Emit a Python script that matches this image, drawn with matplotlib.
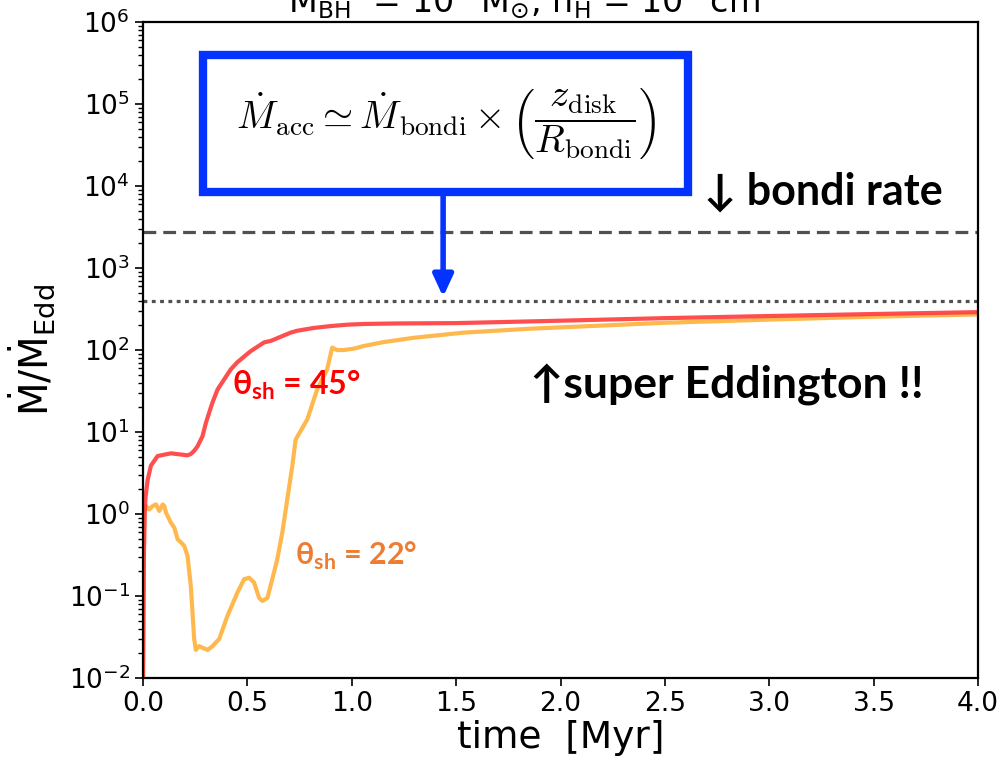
import numpy as np
import matplotlib
matplotlib.use("Agg")
import matplotlib.pyplot as plt
from matplotlib.patches import Rectangle

# accretion history, time in Myr, rate in Eddington units
t_45 = [0.0, 0.004, 0.008, 0.012, 0.022, 0.038, 0.07, 0.134, 0.213, 0.229, 0.245,
        0.261, 0.285, 0.301, 0.325, 0.333, 0.357, 0.389, 0.42, 0.452, 0.5,
        0.516, 0.58, 0.611, 0.707, 0.739, 0.818, 0.898, 0.98, 1.057, 1.217,
        1.5, 2.0, 2.5, 3.0, 3.5, 4.0]
mdot_45 = [0.01, 0.3, 1.0, 1.6, 2.6, 3.9, 5.1, 5.5, 5.2, 5.4, 5.9,
           6.7, 8.9, 12.9, 20.0, 23, 33, 44, 58, 71, 90,
           97, 124, 129, 163, 172, 186, 196, 204, 208, 211,
           213, 228, 245, 260, 275, 290]

t_22 = [0.0, 0.004, 0.0064, 0.0143, 0.030, 0.046, 0.062, 0.078, 0.094, 0.102, 0.110,
        0.134, 0.150, 0.166, 0.182, 0.197, 0.213, 0.229, 0.237, 0.245, 0.253,
        0.269, 0.285, 0.309, 0.333, 0.365, 0.404, 0.452, 0.484, 0.508, 0.532,
        0.556, 0.572, 0.596, 0.619, 0.643, 0.667, 0.691, 0.715, 0.731, 0.755,
        0.787, 0.834, 0.882, 0.906, 0.930, 0.962, 1.01, 1.057, 1.153, 1.296,
        1.535, 1.853, 2.5, 3.0, 3.5, 4.0]
mdot_22 = [0.01, 0.3, 1.25, 1.25, 1.14, 1.25, 1.31, 1.09, 1.31, 1.25, 1.04,
           0.78, 0.68, 0.49, 0.45, 0.41, 0.31, 0.132, 0.063, 0.030, 0.022,
           0.0245, 0.0234, 0.022, 0.0245, 0.030, 0.057, 0.11, 0.16, 0.167, 0.146,
           0.095, 0.087, 0.095, 0.16, 0.28, 0.59, 1.51, 3.85, 8.1, 10.3,
           14.3, 33, 58, 107, 100, 100, 104, 112, 125, 141,
           163, 182, 215, 235, 255, 272]

bondi_rate = 2750
eddington_cap = 400

plt.rcParams['mathtext.fontset'] = 'dejavusans'
plt.rcParams['mathtext.rm'] = 'Lato:bold'

fig = plt.figure(figsize=(10.03, 7.74), dpi=100)
ax = fig.add_axes([0.1426, 0.124, 0.8325, 0.8475])

ax.plot(t_22, mdot_22, color='#ffb13b', lw=3, alpha=0.9)
ax.plot(t_45, mdot_45, color='#ff3b3b', lw=3, alpha=0.9)

ax.axhline(bondi_rate, color='#505050', lw=2.3, ls=(0, (4, 2.2)))
ax.axhline(eddington_cap, color='#505050', lw=2.3, ls=(0, (1.2, 1.4)))

ax.set_yscale('log')
ax.set_xlim(0, 4.0)
ax.set_ylim(1e-2, 1e6)
ax.set_xticks(np.arange(0, 4.01, 0.5))
ax.set_yticks([10.0 ** k for k in range(-2, 7)])

for s in ax.spines.values():
    s.set_linewidth(1.6)
ax.tick_params(axis='both', which='major', direction='out', length=6, width=1.2,
               labelsize=19)
ax.tick_params(axis='y', which='minor', direction='out', length=3.5, width=1.0)

ax.set_xlabel('time  [Myr]', fontsize=27, labelpad=2)
ax.set_ylabel(r'$\dot{\mathsf{M}}/\dot{\mathsf{M}}_{\mathsf{Edd}}$', fontsize=28,
              labelpad=8)

fig.text(0.54, 0.9845,
         r'$\mathsf{M_{BH}}$  = $\mathsf{10^{5}}$ $\mathsf{M_{\odot}}$, '
         r'$\mathsf{n_{H}}$ = $\mathsf{10^{3}}$ $\mathsf{cm^{-3}}$',
         fontsize=24, ha='center', va='baseline')

# formula box and arrow
ax.add_patch(Rectangle((0.072, 0.741), 0.581, 0.209, transform=ax.transAxes,
                       fill=False, edgecolor='#0433ff', lw=6, zorder=5))
ax.text(0.3625, 0.8455,
        r'$\dot{M}_{\rm acc} \simeq \dot{M}_{\rm bondi} \times '
        r'\left(\dfrac{z_{\rm disk}}{R_{\rm bondi}}\right)$',
        transform=ax.transAxes, ha='center', va='center', fontsize=28,
        math_fontfamily='cm', zorder=6)
ax.annotate('', xy=(0.3594, 0.581), xytext=(0.3594, 0.737),
            xycoords='axes fraction', textcoords='axes fraction',
            arrowprops=dict(arrowstyle='-|>,head_length=1.3,head_width=0.6',
                            color='#0433ff', lw=4, shrinkA=0, shrinkB=0),
            zorder=5)

ann_font = ['Lato', 'DejaVu Sans']
ax.text(0.672, 0.742, '↓ bondi rate', transform=ax.transAxes, fontsize=31,
        fontweight='bold', family=ann_font, va='center', ha='left')
ax.text(0.464, 0.4468, '↑super Eddington !!', transform=ax.transAxes,
        fontsize=32, fontweight='bold', family=ann_font, va='center', ha='left')
ax.text(0.106, 0.4468, r'θ$_{\rm sh}$ = 45°', transform=ax.transAxes,
        fontsize=23, fontweight='bold', family=ann_font, color='#ff0000',
        va='center', ha='left', math_fontfamily='custom')
ax.text(0.182, 0.186, r'θ$_{\rm sh}$ = 22°', transform=ax.transAxes,
        fontsize=22, fontweight='bold', family=ann_font, color='#ed7d31',
        va='center', ha='left', math_fontfamily='custom')

fig.savefig('out.png', dpi=100)
